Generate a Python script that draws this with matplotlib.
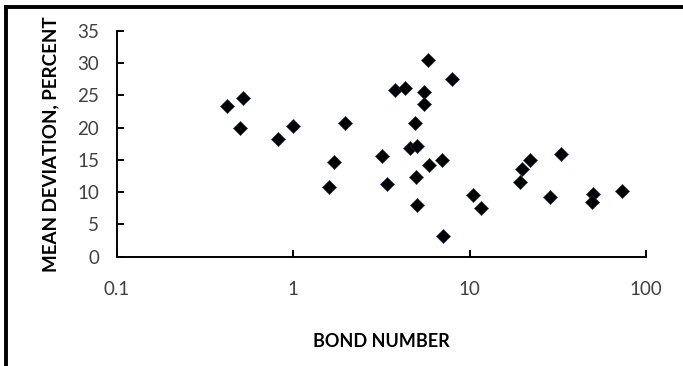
import matplotlib
matplotlib.use("Agg")
import matplotlib.pyplot as plt
from matplotlib.lines import Line2D
from matplotlib.ticker import FixedLocator, FixedFormatter, NullLocator

bond_number = [0.42, 0.52, 0.50, 0.82, 1.0, 1.96, 1.70, 1.60, 3.2, 3.4, 3.78, 4.3,
               5.78, 7.98, 5.5, 5.5, 4.9, 4.6, 5.0, 5.9, 7.0, 4.99, 5.0, 7.06,
               10.4, 11.6, 19.3, 19.7, 21.9, 28.7, 32.9, 50.3, 49.3, 73.3]
mean_deviation = [23.4, 24.6, 19.9, 18.2, 20.3, 20.7, 14.7, 10.8, 15.6, 11.2, 25.8, 26.2,
                  30.4, 27.5, 25.5, 23.6, 20.7, 16.8, 17.2, 14.25, 15.0, 12.3, 8.05, 3.25,
                  9.5, 7.5, 11.5, 13.6, 14.9, 9.25, 15.85, 9.75, 8.5, 10.1]

x_ticks = [0.1, 1, 10, 100]
x_tick_labels = ["0.1", "1", "10", "100"]
y_ticks = [0, 5, 10, 15, 20, 25, 30, 35]
y_tick_labels = ["0", "5", "10", "15", "20", "25", "30", "35"]

plt.rcParams['font.family'] = ['Lato', 'DejaVu Sans']

fig = plt.figure(figsize=(6.83, 3.66), dpi=100)
ax = fig.add_axes([117/683, 1 - 256.7/366, (646 - 117)/683, (256.7 - 30.7)/366])

ax.scatter(bond_number, mean_deviation, marker='D', s=52, color='black',
           edgecolors='#1f3550', linewidths=0.4, zorder=3, clip_on=False)

ax.set_xscale('log')
ax.set_xlim(0.1, 100)
ax.set_ylim(0, 35)
ax.xaxis.set_major_locator(FixedLocator(x_ticks))
ax.xaxis.set_major_formatter(FixedFormatter(x_tick_labels))
ax.xaxis.set_minor_locator(NullLocator())
ax.set_yticks(y_ticks)
ax.set_yticklabels(y_tick_labels)

for s in ['top', 'right']:
    ax.spines[s].set_visible(False)
for s in ['left', 'bottom']:
    ax.spines[s].set_linewidth(1.4)
    ax.spines[s].set_color('black')

ax.tick_params(axis='both', direction='in', length=5, width=1.4, color='black',
               labelsize=13.5, labelcolor='#404040')
ax.tick_params(axis='y', pad=13)
ax.tick_params(axis='x', pad=17.5)

ax.set_xlabel("BOND NUMBER", fontsize=13, fontweight='bold', labelpad=25)
ax.set_ylabel("MEAN DEVIATION, PERCENT", fontsize=13.5, fontweight='bold', labelpad=12.5)

fig.add_artist(Line2D([5.5/683, 5.5/683], [0, 1 - 5/366], transform=fig.transFigure,
                      color='black', linewidth=2.8, solid_capstyle='butt'))
fig.add_artist(Line2D([4/683, 1], [1 - 7/366, 1 - 7/366], transform=fig.transFigure,
                      color='black', linewidth=2.8, solid_capstyle='butt'))

fig.savefig("out.png", dpi=100)
